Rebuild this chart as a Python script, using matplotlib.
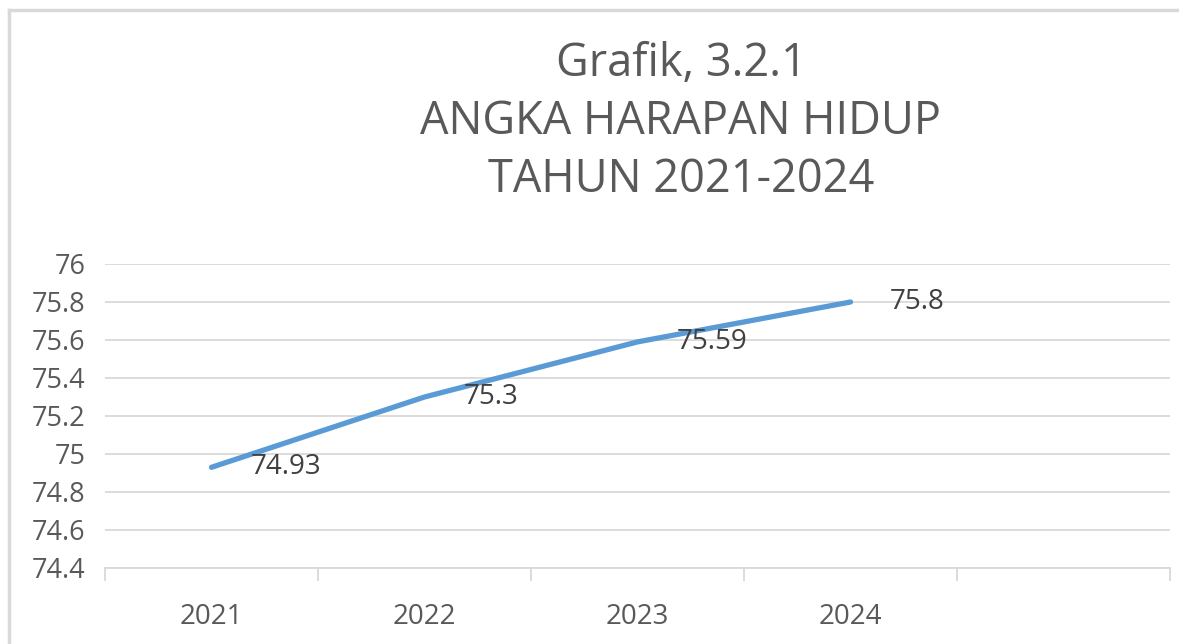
import numpy as np
import matplotlib.pyplot as plt
from matplotlib.lines import Line2D

# data
years = ["2021", "2022", "2023", "2024", ""]
life_exp = [74.93, 75.3, 75.59, 75.8]
title_lines = ["Grafik, 3.2.1", "ANGKA HARAPAN HIDUP", "TAHUN 2021-2024"]

plt.rcParams['font.family'] = ['Open Sans', 'DejaVu Sans']
txt = "#595959"
grid_c = "#d9d9d9"

fig = plt.figure(figsize=(11.79, 6.44), dpi=100)
ax = fig.add_axes([105/1179, 76/644, 1065/1179, 304/644])

x = np.arange(len(life_exp))
ax.plot(x, life_exp, color="#5B9BD5", linewidth=3.8, solid_capstyle="round")
for xi, v in zip(x, life_exp):
    ax.annotate(f"{v:g}", (xi, v), xytext=(28, 0), textcoords="offset points",
                ha="left", va="center", fontsize=20, color="#404040")

ax.set_xlim(-0.5, len(years) - 0.5)
ax.set_ylim(74.4, 76)
ax.set_yticks(np.arange(74.4, 76.01, 0.2))
ax.set_yticklabels([f"{t:g}" for t in np.arange(74.4, 76.01, 0.2).round(1)])
ax.yaxis.grid(True, color=grid_c, linewidth=1.3)
ax.set_axisbelow(True)

ax.set_xticks(np.arange(len(years)))
ax.set_xticklabels(years)
ax.set_xticks(np.arange(-0.5, len(years)), minor=True)
ax.tick_params(axis="x", which="major", length=0, pad=25, labelsize=20, labelcolor=txt)
ax.tick_params(axis="x", which="minor", length=9, width=1.3, color=grid_c, direction="out")
ax.tick_params(axis="y", length=0, pad=14, labelsize=19.5, labelcolor=txt)

for s in ["top", "right", "left"]:
    ax.spines[s].set_visible(False)
ax.spines["bottom"].set_color(grid_c)
ax.spines["bottom"].set_linewidth(1.3)

fig.text(681/1179, 1 - 122/644, "\n".join(title_lines), ha="center", va="center",
         fontsize=32.5, color=txt, linespacing=1.33)

# chart border (top and left visible)
fig.add_artist(Line2D([9/1179, 1], [1 - 10/644, 1 - 10/644], transform=fig.transFigure,
                      color=grid_c, linewidth=2.5))
fig.add_artist(Line2D([9/1179, 9/1179], [0, 1 - 10/644], transform=fig.transFigure,
                      color=grid_c, linewidth=2.5))

fig.savefig("out.png", dpi=100)
